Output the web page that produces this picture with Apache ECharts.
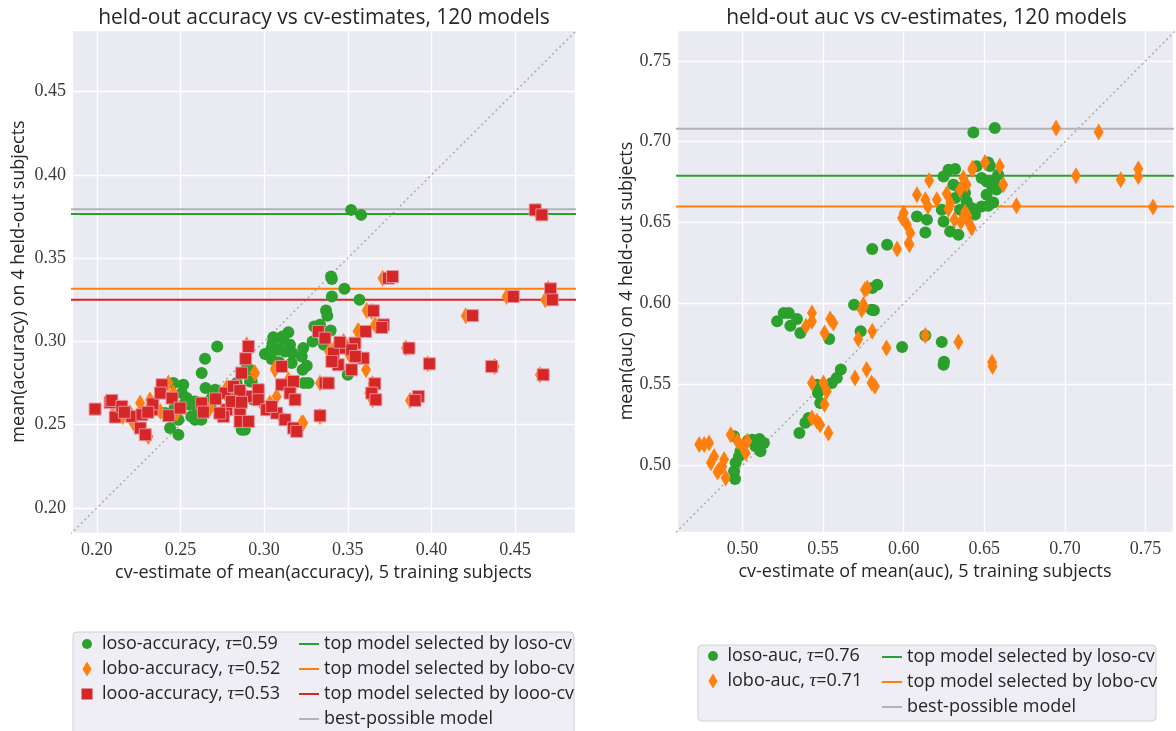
<!DOCTYPE html>
<html>
<head>
<meta charset="utf-8">
<script src="https://cdn.jsdelivr.net/npm/echarts@6/dist/echarts.min.js"></script>
<style>
html,body{margin:0;padding:0;background:#fff;}
#chart{width:1176px;height:731px;}
</style>
</head>
<body>
<div id="chart"></div>
<script>
// ---------- tick labels ----------
const accTicks = [0.20, 0.25, 0.30, 0.35, 0.40, 0.45];
const aucTicks = [0.50, 0.55, 0.60, 0.65, 0.70, 0.75];
const accRangeX = [0.1852, 0.4858];
const accRangeY = [0.185, 0.487];
const aucRangeX = [0.4594, 0.767];
const aucRangeY = [0.459, 0.769];

// ---------- reference lines ----------
const accTopLoso = 0.3766, accTopLobo = 0.3316, accTopLooo = 0.325, accBest = 0.3794;
const aucTopLoso = 0.679, aucTopLobo = 0.660, aucBest = 0.708;

// ---------- left: accuracy [cv-estimate, held-out] ----------
const losoAcc = [
[0.352,0.379],[0.358,0.376],
[0.340,0.339],[0.3405,0.3375],[0.348,0.3316],[0.3405,0.327],[0.357,0.325],[0.337,0.3186],[0.3378,0.3155],
[0.330,0.309],[0.3334,0.310],[0.3398,0.3066],[0.329,0.300],[0.3358,0.298],[0.3145,0.3056],[0.3055,0.3026],
[0.3115,0.301],[0.3045,0.296],[0.3155,0.298],[0.3085,0.295],[0.3234,0.296],[0.3225,0.291],[0.3045,0.2894],
[0.3165,0.287],[0.3255,0.2854],[0.323,0.283],[0.3238,0.275],[0.3265,0.275],[0.350,0.280],[0.2916,0.283],
[0.2926,0.276],[0.272,0.297],[0.2647,0.2896],[0.2627,0.281],[0.2517,0.274],[0.265,0.272],[0.2538,0.266],
[0.2408,0.257],[0.2438,0.248],[0.2488,0.244],[0.2587,0.253],[0.2587,0.264],[0.2687,0.266],[0.2707,0.271],
[0.2856,0.257],[0.2866,0.247],[0.2885,0.247],[0.2836,0.275],[0.2916,0.276],[0.2896,0.284],[0.2527,0.263],
[0.2488,0.253],[0.2458,0.275],[0.2936,0.265],[0.2508,0.269],[0.2555,0.262],[0.2605,0.258],[0.2625,0.253],
[0.2465,0.260],[0.2565,0.255],[0.268,0.261],[0.2795,0.266],[0.305,0.299],[0.311,0.303],[0.317,0.293],
[0.309,0.2875],[0.3005,0.2925],[0.3125,0.294]
];
const loboAcc = [
[0.463,0.378],[0.3708,0.338],[0.3643,0.318],[0.3663,0.310],[0.3559,0.306],[0.3613,0.3186],[0.3563,0.3066],
[0.3609,0.283],[0.3334,0.275],[0.3234,0.251],[0.3848,0.296],[0.3978,0.2866],[0.4378,0.285],[0.4648,0.280],
[0.4205,0.3155],[0.4449,0.327],[0.4698,0.3316],[0.468,0.325],[0.3648,0.2746],[0.3628,0.269],[0.3648,0.265],
[0.3872,0.2646],[0.3334,0.255],[0.3388,0.294],[0.3066,0.284],[0.2942,0.281],[0.3145,0.277],[0.3075,0.267],
[0.2995,0.261],[0.3225,0.251],[0.2428,0.275],[0.2458,0.269],[0.2259,0.263],[0.2318,0.265],[0.2219,0.251],
[0.2308,0.243],[0.2677,0.260],[0.2896,0.298],[0.2946,0.281],[0.3065,0.283],[0.2478,0.257],[0.2199,0.257],
[0.2775,0.272],[0.2745,0.257],[0.284,0.262],[0.3425,0.297],[0.3475,0.300],[0.351,0.292],[0.2095,0.262],
[0.2155,0.255],[0.238,0.258],[0.286,0.270],[0.3035,0.263],[0.3105,0.254]
];
const loooAcc = [
[0.462,0.379],[0.466,0.376],
[0.199,0.2594],[0.208,0.2634],[0.209,0.2646],[0.211,0.2546],[0.215,0.261],[0.221,0.255],[0.227,0.256],
[0.233,0.259],[0.2335,0.2625],[0.226,0.248],[0.229,0.244],[0.239,0.274],[0.238,0.269],[0.243,0.2554],
[0.245,0.266],[0.2498,0.260],[0.2627,0.263],[0.2637,0.2576],[0.2906,0.297],[0.289,0.2896],[0.2866,0.281],
[0.2767,0.269],[0.2817,0.273],[0.2906,0.267],[0.2777,0.259],[0.2856,0.259],[0.2757,0.255],[0.2856,0.252],
[0.2906,0.252],[0.2965,0.271],[0.2965,0.265],[0.3015,0.259],[0.3105,0.285],[0.3105,0.274],[0.3175,0.276],
[0.3155,0.269],[0.3185,0.265],[0.3075,0.257],[0.3125,0.253],[0.3175,0.248],[0.3195,0.246],[0.3334,0.2554],
[0.3324,0.306],[0.3364,0.302],[0.3364,0.275],[0.3743,0.338],[0.3768,0.339],[0.3653,0.3184],[0.3713,0.310],
[0.3703,0.3084],[0.3607,0.306],[0.3866,0.296],[0.3988,0.2866],[0.4360,0.285],[0.4668,0.280],[0.4245,0.3155],
[0.4489,0.327],[0.4712,0.3316],[0.4722,0.325],[0.3662,0.2746],[0.3643,0.269],[0.3668,0.265],[0.3922,0.267],
[0.3902,0.2646],[0.3523,0.283],[0.3593,0.290],[0.3443,0.286],[0.3384,0.275],[0.3543,0.299],[0.3473,0.296],
[0.3414,0.293],[0.3523,0.295],[0.3453,0.2995],[0.3545,0.291],[0.3405,0.288],[0.2855,0.2705],[0.2805,0.264],
[0.271,0.2655],[0.2735,0.257],[0.2305,0.2575],[0.2165,0.2575],[0.2865,0.2635],[0.3045,0.261]
];

// ---------- right: auc [cv-estimate, held-out] ----------
const losoAuc = [
[0.6432,0.7057],[0.6565,0.7085],[0.6247,0.6786],[0.6278,0.6827],[0.6319,0.6831],[0.6452,0.6848],[0.6524,0.6872],
[0.6483,0.6776],[0.6586,0.6796],[0.6514,0.6755],[0.6544,0.6735],[0.6514,0.6673],[0.6308,0.6735],[0.6319,0.6652],
[0.6390,0.6632],[0.6421,0.6591],[0.6442,0.655],[0.6483,0.660],[0.6524,0.6605],[0.6236,0.658],[0.6349,0.658],
[0.6082,0.6539],[0.6144,0.6519],[0.6247,0.6508],[0.6288,0.6446],[0.6339,0.6426],[0.6134,0.644],[0.5897,0.6364],
[0.5805,0.6338],[0.5836,0.6117],[0.5805,0.6097],[0.5815,0.596],[0.5733,0.5829],[0.6134,0.5804],[0.6236,0.5764],
[0.599,0.5733],[0.6247,0.5623],[0.625,0.5642],[0.5692,0.5994],[0.5801,0.5963],[0.5215,0.5891],[0.5256,0.5943],
[0.5287,0.5943],[0.5338,0.5906],[0.5297,0.5864],[0.5359,0.5819],[0.5538,0.5782],[0.561,0.5593],[0.5585,0.5541],
[0.5554,0.551],[0.5462,0.55],[0.5468,0.5449],[0.5482,0.5387],[0.539,0.5264],[0.541,0.5294],[0.5353,0.5202],
[0.5061,0.516],[0.5133,0.514],[0.5112,0.5088],[0.5081,0.512],[0.4948,0.5181],[0.4978,0.5057],[0.4958,0.5017],
[0.4948,0.4965],[0.4954,0.4918],[0.4988,0.509],[0.5035,0.5155],[0.5105,0.5165],[0.6555,0.6625],[0.6575,0.6705],
[0.656,0.676],[0.6345,0.6715],[0.6380,0.6685],[0.6535,0.685]
];
const loboAuc = [
[0.4732,0.513],[0.4763,0.513],[0.4793,0.514],[0.4804,0.5017],[0.4824,0.5057],[0.4855,0.4975],[0.4886,0.5037],
[0.4896,0.4924],[0.4927,0.5191],[0.4969,0.515],[0.4999,0.512],[0.502,0.5078],[0.503,0.515],[0.4875,0.4995],
[0.4845,0.496],[0.5431,0.5943],[0.5431,0.5891],[0.5394,0.586],[0.5544,0.5906],[0.5564,0.5881],[0.5509,0.5819],
[0.5718,0.5782],[0.5749,0.5994],[0.5739,0.5963],[0.5805,0.5829],[0.5893,0.5727],[0.577,0.5593],[0.5698,0.5541],
[0.5801,0.551],[0.5821,0.549],[0.5431,0.551],[0.5502,0.551],[0.5523,0.5459],[0.5509,0.5377],[0.5431,0.5294],
[0.5462,0.5274],[0.5482,0.5253],[0.5533,0.5202],[0.5759,0.6086],[0.5774,0.6097],[0.5753,0.5983],[0.6134,0.5804],
[0.6339,0.5764],[0.6548,0.5638],[0.6551,0.5612],[0.6158,0.6761],[0.6082,0.6673],[0.6134,0.6642],[0.615,0.660],
[0.6205,0.6642],[0.6267,0.6679],[0.6288,0.6622],[0.6277,0.6585],[0.6314,0.6519],[0.6349,0.6704],[0.6370,0.6776],
[0.639,0.6735],[0.6425,0.6827],[0.638,0.6564],[0.6401,0.6508],[0.6421,0.6467],[0.6504,0.6872],[0.6596,0.6848],
[0.6617,0.6735],[0.6699,0.6605],[0.600,0.656],[0.599,0.6529],[0.602,0.6488],[0.6041,0.6436],[0.6035,0.6364],
[0.5959,0.6338],[0.6945,0.7085],[0.7209,0.706],[0.7068,0.679],[0.7346,0.6765],[0.7455,0.6831],[0.7455,0.6786],
[0.7546,0.6597],[0.6427,0.6838],[0.6031,0.6375],[0.6355,0.6505],[0.6395,0.6545]
];

// ---------- names ----------
const nLosoAcc = 'loso-accuracy, τ=0.59';
const nLoboAcc = 'lobo-accuracy, τ=0.52';
const nLoooAcc = 'looo-accuracy, τ=0.53';
const nLosoAuc = 'loso-auc, τ=0.76';
const nLoboAuc = 'lobo-auc, τ=0.71';
const nTopLoso = 'top model selected by loso-cv';
const nTopLobo = 'top model selected by lobo-cv';
const nTopLooo = 'top model selected by looo-cv';
const nBest = 'best-possible model';

const GREEN = '#2ca02c', ORANGE = '#ff7f0e', RED = '#d62728', GRAY = '#b3b3b3';
const SANS = 'Open Sans';
const SERIF = 'Liberation Serif';
const TXT = '#262626';

function tickFmt(ticks) {
  return function (v) {
    const t = ticks.find(t => Math.abs(t - v) < 1e-6);
    return t !== undefined ? t.toFixed(2) : '';
  };
}

function xAxisCfg(grid, range, ticks, name) {
  return {
    gridIndex: grid, type: 'value', min: range[0], max: range[1], splitNumber: 6,
    axisLine: {show: false}, axisTick: {show: false},
    splitLine: {show: true, lineStyle: {color: '#ffffff', width: 1.3}},
    axisLabel: {formatter: tickFmt(ticks), fontFamily: SERIF, fontSize: 18, color: '#3a3a3a', margin: 8,
      showMinLabel: true, showMaxLabel: true},
    name: name, nameLocation: 'middle', nameGap: 27,
    nameTextStyle: {fontFamily: SANS, fontSize: 18, color: TXT}
  };
}
function yAxisCfg(grid, range, ticks, name, gap) {
  return {
    gridIndex: grid, type: 'value', min: range[0], max: range[1], splitNumber: 6,
    axisLine: {show: false}, axisTick: {show: false},
    splitLine: {show: true, lineStyle: {color: '#ffffff', width: 1.3}},
    axisLabel: {formatter: tickFmt(ticks), fontFamily: SERIF, fontSize: 18, color: '#3a3a3a', margin: 6},
    name: name, nameLocation: 'middle', nameGap: gap, nameRotate: 90,
    nameTextStyle: {fontFamily: SANS, fontSize: 18, color: TXT}
  };
}

function hline(name, grid, xr, v, color) {
  return {
    type: 'line', name: name, xAxisIndex: grid, yAxisIndex: grid,
    data: [[xr[0] - 0.01, v], [xr[1] + 0.01, v]],
    showSymbol: false, symbol: 'none', silent: true, z: 1, color: color,
    itemStyle: {color: color},
    lineStyle: {color: color, width: 2}
  };
}
function diag(grid, lo, hi) {
  return {
    type: 'line', name: 'diag', xAxisIndex: grid, yAxisIndex: grid,
    data: [[lo, lo], [hi, hi]], showSymbol: false, symbol: 'none', silent: true, z: 1,
    lineStyle: {color: '#a8a8a8', width: 1.4, type: [2, 3]}
  };
}
function scatter(name, grid, data, symbol, size, color, z, border) {
  return {
    type: 'scatter', name: name, xAxisIndex: grid, yAxisIndex: grid, data: data,
    symbol: symbol, symbolSize: size, z: z, silent: true,
    itemStyle: {color: color, opacity: 1, borderColor: border || color, borderWidth: border ? 1 : 0}
  };
}

const legendRich = {t: {fontFamily: SERIF, fontStyle: 'italic', fontSize: 19, color: TXT}};
function legendItem(name, icon, color, cx, cy, w, h, padLeft) {
  return {
    data: [{name: name, icon: icon, itemStyle: {color: color, borderWidth: 0}}],
    selectedMode: false, orient: 'vertical',
    left: cx - w / 2, top: cy - 10, padding: 0, itemWidth: w, itemHeight: h,
    formatter: function (n) { return n.replace('τ', '{t|τ}'); },
    textStyle: {fontFamily: SANS, fontSize: 18, color: TXT, lineHeight: 20, padding: [0, 0, 0, padLeft], rich: legendRich}
  };
}

const option = {
  backgroundColor: '#ffffff',
  animation: false,
  grid: [
    {left: 72, top: 30, width: 503, height: 503, show: true, backgroundColor: '#EAEAF2', borderWidth: 0},
    {left: 677, top: 30, width: 499, height: 502, show: true, backgroundColor: '#EAEAF2', borderWidth: 0}
  ],
  xAxis: [
    xAxisCfg(0, accRangeX, accTicks, 'cv-estimate of mean(accuracy), 5 training subjects'),
    xAxisCfg(1, aucRangeX, aucTicks, 'cv-estimate of mean(auc), 5 training subjects')
  ],
  yAxis: [
    yAxisCfg(0, accRangeY, accTicks, 'mean(accuracy) on 4 held-out subjects', 44),
    yAxisCfg(1, aucRangeY, aucTicks, 'mean(auc) on 4 held-out subjects', 40)
  ],
  legend: [
    legendItem(nLosoAcc, 'circle', GREEN, 87, 644, 10, 10, 5),
    legendItem(nLoboAcc, 'diamond', ORANGE, 87, 669, 9, 15, 5.5),
    legendItem(nLoooAcc, 'rect', RED, 87, 694, 11, 11, 4.5),
    legendItem(nTopLoso, 'rect', GREEN, 309, 644, 20, 2, 0),
    legendItem(nTopLobo, 'rect', ORANGE, 309, 669, 20, 2, 0),
    legendItem(nTopLooo, 'rect', RED, 309, 694, 20, 2, 0),
    legendItem(nBest, 'rect', GRAY, 309, 719, 20, 2, 0),
    legendItem(nLosoAuc, 'circle', GREEN, 713, 656, 10, 10, 4.5),
    legendItem(nLoboAuc, 'diamond', ORANGE, 713, 681, 9, 15, 5),
    legendItem(nTopLoso, 'rect', GREEN, 892, 657, 20, 2, 0),
    legendItem(nTopLobo, 'rect', ORANGE, 892, 682, 20, 2, 0),
    legendItem(nBest, 'rect', GRAY, 892, 707, 20, 2, 0)
  ],
  graphic: [
    {type: 'rect', z: -1, shape: {x: 73, y: 632, width: 501, height: 110, r: 4},
      style: {fill: '#eeeef4', stroke: '#d0d0d6', lineWidth: 1}},
    {type: 'rect', z: -1, shape: {x: 698, y: 645, width: 458, height: 76, r: 4},
      style: {fill: '#eeeef4', stroke: '#d0d0d6', lineWidth: 1}},
    {type: 'text', x: 324, y: 18, style: {text: 'held-out accuracy vs cv-estimates, 120 models',
      align: 'center', verticalAlign: 'middle', fontFamily: SANS, fontSize: 21, fill: TXT}},
    {type: 'text', x: 926.5, y: 18, style: {text: 'held-out auc vs cv-estimates, 120 models',
      align: 'center', verticalAlign: 'middle', fontFamily: SANS, fontSize: 21, fill: TXT}}
  ],
  series: [
    diag(0, 0.18, 0.49),
    hline(nBest, 0, accRangeX, accBest, GRAY),
    hline(nTopLoso, 0, accRangeX, accTopLoso, GREEN),
    hline(nTopLobo, 0, accRangeX, accTopLobo, ORANGE),
    hline(nTopLooo, 0, accRangeX, accTopLooo, RED),
    scatter(nLosoAcc, 0, losoAcc, 'circle', 12, GREEN, 3),
    scatter(nLoboAcc, 0, loboAcc, 'diamond', [10, 17], ORANGE, 4),
    scatter(nLoooAcc, 0, loooAcc, 'rect', 12, RED, 5, 'rgba(236,150,160,0.9)'),
    diag(1, 0.45, 0.78),
    hline(nBest, 1, aucRangeX, aucBest, GRAY),
    hline(nTopLoso, 1, aucRangeX, aucTopLoso, GREEN),
    hline(nTopLobo, 1, aucRangeX, aucTopLobo, ORANGE),
    scatter(nLosoAuc, 1, losoAuc, 'circle', 12, GREEN, 3),
    scatter(nLoboAuc, 1, loboAuc, 'diamond', [10, 17], ORANGE, 4)
  ]
};

const chart = echarts.init(document.getElementById('chart'), null, {renderer: 'canvas'});
chart.setOption(option);
</script>
</body>
</html>
